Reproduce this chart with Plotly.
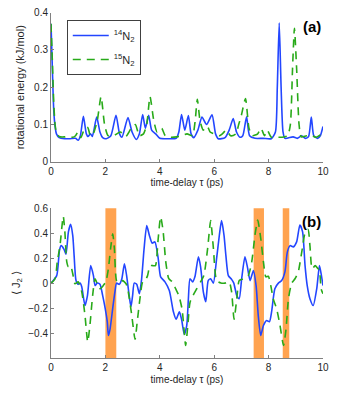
import plotly.graph_objects as go
from plotly.subplots import make_subplots

# ---- panel (a): rotational energy (kJ/mol) vs time delay (ps)
t_e14 = [0.0, 0.05, 0.1, 0.15, 0.2, 0.3, 0.5, 0.7, 0.9, 1.0, 1.08, 1.19, 1.3, 1.36, 1.45, 1.52,
         1.68, 1.8, 1.9, 2.03, 2.2, 2.39, 2.52, 2.61, 2.83, 2.98, 3.14, 3.25, 3.37, 3.47, 3.59,
         3.7, 3.85, 4.0, 4.3, 4.6, 4.7, 4.8, 4.92, 5.05, 5.15, 5.25, 5.4, 5.55, 5.72, 5.92, 6.05,
         6.15, 6.4, 6.55, 6.7, 6.82, 6.95, 7.05, 7.19, 7.3, 7.5, 7.8, 8.1, 8.25, 8.32, 8.39, 8.46,
         8.53, 8.6, 8.9, 9.05, 9.22, 9.35, 9.47, 9.57, 9.66, 9.8, 9.9, 10.0]
e14 = [0.37, 0.25, 0.14, 0.095, 0.075, 0.065, 0.062, 0.062, 0.063, 0.058, 0.07, 0.122, 0.075, 0.068,
       0.075, 0.068, 0.12, 0.08, 0.065, 0.062, 0.07, 0.125, 0.075, 0.066, 0.119, 0.08, 0.06, 0.075,
       0.127, 0.09, 0.125, 0.085, 0.075, 0.063, 0.062, 0.063, 0.08, 0.127, 0.085, 0.124, 0.075, 0.065,
       0.085, 0.12, 0.1, 0.126, 0.075, 0.062, 0.065, 0.085, 0.116, 0.08, 0.066, 0.07, 0.121, 0.07,
       0.063, 0.063, 0.062, 0.08, 0.2, 0.373, 0.2, 0.08, 0.063, 0.067, 0.063, 0.07, 0.063, 0.068,
       0.12, 0.07, 0.063, 0.07, 0.095]

t_e15 = [0.0, 0.05, 0.1, 0.15, 0.2, 0.3, 0.5, 0.6, 0.8, 0.9, 0.99, 1.1, 1.24, 1.35, 1.45, 1.55, 1.7,
         1.84, 1.97, 2.1, 2.3, 2.55, 2.75, 2.95, 3.1, 3.25, 3.4, 3.52, 3.64, 3.78, 3.9, 4.07, 4.2,
         4.4, 4.62, 4.8, 5.0, 5.2, 5.3, 5.38, 5.48, 5.6, 5.75, 5.85, 6.0, 6.2, 6.3, 6.45, 6.6, 6.8,
         6.9, 7.0, 7.15, 7.28, 7.4, 7.6, 7.72, 7.85, 7.95, 8.1, 8.3, 8.5, 8.7, 8.8, 8.88, 8.95, 9.03,
         9.12, 9.2, 9.4, 9.6, 9.75, 9.9, 10.0]
e15 = [0.37, 0.27, 0.16, 0.1, 0.078, 0.068, 0.067, 0.069, 0.066, 0.07, 0.08, 0.065, 0.09, 0.092, 0.07,
       0.075, 0.11, 0.175, 0.1, 0.07, 0.07, 0.08, 0.068, 0.09, 0.1, 0.07, 0.075, 0.1, 0.175, 0.11,
       0.08, 0.09, 0.07, 0.066, 0.067, 0.07, 0.075, 0.07, 0.11, 0.168, 0.11, 0.085, 0.095, 0.08,
       0.075, 0.07, 0.075, 0.085, 0.07, 0.075, 0.1, 0.125, 0.17, 0.09, 0.07, 0.075, 0.09, 0.07,
       0.085, 0.066, 0.066, 0.066, 0.07, 0.1, 0.25, 0.358, 0.25, 0.1, 0.067, 0.07, 0.07, 0.066,
       0.072, 0.08]

# ---- panel (b): <J2> vs time delay (ps)
t_j14 = [0.0, 0.21, 0.31, 0.37, 0.48, 0.55, 0.64, 0.72, 0.8, 0.85, 0.92, 1.0, 1.07, 1.13, 1.25, 1.34,
         1.46, 1.56, 1.62, 1.7, 1.8, 1.9, 1.99, 2.07, 2.11, 2.17, 2.27, 2.35, 2.41, 2.51, 2.6, 2.7,
         2.78, 2.88, 2.94, 3.0, 3.06, 3.15, 3.25, 3.33, 3.42, 3.52, 3.62, 3.72, 3.82, 3.94, 4.03,
         4.19, 4.35, 4.5, 4.6, 4.72, 4.8, 4.9, 4.99, 5.05, 5.11, 5.21, 5.29, 5.42, 5.5, 5.6, 5.69,
         5.78, 5.87, 5.97, 6.09, 6.19, 6.27, 6.36, 6.43, 6.52, 6.64, 6.72, 6.83, 6.92, 7.01, 7.13,
         7.22, 7.32, 7.44, 7.54, 7.62, 7.71, 7.81, 7.93, 8.03, 8.11, 8.23, 8.36, 8.48, 8.6, 8.69,
         8.79, 8.91, 9.03, 9.15, 9.25, 9.34, 9.42, 9.52, 9.64, 9.77, 9.87, 9.95, 10.0]
j14 = [0.0, 0.06, 0.26, 0.3, 0.27, 0.23, 0.41, 0.47, 0.38, 0.22, 0.02, -0.01, 0.0, -0.03, -0.18, -0.1,
       0.14, 0.06, -0.02, 0.0, -0.01, -0.1, -0.2, -0.31, -0.42, -0.37, -0.2, -0.07, 0.0, -0.01, 0.03,
       0.155, 0.06, -0.11, -0.19, -0.1, 0.0, -0.01, -0.085, 0.03, 0.27, 0.46, 0.38, 0.32, 0.33, 0.2,
       0.05, 0.01, -0.06, -0.23, -0.29, -0.23, -0.29, -0.41, -0.34, -0.13, 0.035, 0.01, 0.05, 0.21,
       0.13, -0.07, -0.15, 0.02, 0.035, 0.0, 0.2, 0.385, 0.5, 0.385, 0.22, 0.06, 0.03, 0.0, -0.1,
       -0.125, 0.035, 0.21, 0.13, 0.02, 0.1, -0.02, -0.26, -0.42, -0.34, -0.3, -0.31, -0.23, -0.045,
       0.0, 0.02, 0.09, 0.25, 0.3, 0.29, 0.33, 0.465, 0.41, 0.14, -0.02, -0.125, -0.18, -0.045, 0.14,
       0.05, -0.02]

t_j15 = [0.0, 0.15, 0.23, 0.33, 0.45, 0.51, 0.58, 0.64, 0.72, 0.8, 0.88, 1.0, 1.13, 1.25, 1.35, 1.43,
         1.53, 1.62, 1.7, 1.8, 1.92, 2.02, 2.11, 2.19, 2.27, 2.33, 2.41, 2.51, 2.63, 2.76, 2.84, 2.97,
         3.09, 3.17, 3.27, 3.37, 3.46, 3.55, 3.64, 3.74, 3.84, 3.93, 4.03, 4.12, 4.22, 4.33, 4.46,
         4.58, 4.7, 4.82, 4.9, 4.95, 5.03, 5.11, 5.22, 5.36, 5.5, 5.62, 5.76, 5.87, 5.97, 6.09, 6.25,
         6.4, 6.55, 6.64, 6.73, 6.83, 6.92, 7.07, 7.25, 7.38, 7.5, 7.6, 7.71, 7.81, 7.9, 7.99, 8.08,
         8.17, 8.3, 8.42, 8.55, 8.64, 8.73, 8.85, 8.97, 9.09, 9.22, 9.35, 9.45, 9.52, 9.6, 9.71, 9.8,
         9.87, 9.93, 10.0]
j15 = [0.0, 0.035, 0.17, 0.3, 0.535, 0.41, 0.17, 0.13, 0.14, 0.075, -0.005, 0.01, -0.07, -0.26, -0.47,
       -0.34, -0.1, 0.035, -0.005, -0.045, -0.02, 0.013, 0.115, 0.275, 0.395, 0.275, 0.02, 0.0, 0.02,
       -0.005, -0.07, -0.26, -0.45, -0.31, -0.125, 0.01, 0.02, 0.06, 0.14, 0.14, 0.14, 0.33, 0.53,
       0.42, 0.17, 0.035, 0.01, -0.045, -0.1, -0.21, -0.395, -0.5, -0.34, -0.155, -0.1, -0.045, 0.01,
       0.06, 0.28, 0.5, 0.28, 0.02, 0.0, 0.0, 0.01, -0.07, -0.29, -0.125, 0.02, 0.035, 0.06, 0.17,
       0.385, 0.505, 0.36, 0.17, 0.05, 0.055, -0.02, -0.125, -0.21, -0.34, -0.5, -0.37, -0.125, 0.0,
       0.035, 0.09, 0.25, 0.41, 0.43, 0.3, 0.115, 0.14, 0.12, 0.1, -0.045, -0.085]

# highlighted time windows in panel (b), ps
bands = [(2.0, 2.4), (7.45, 7.83), (8.52, 8.76)]

x_ticks = [0, 2, 4, 6, 8, 10]
e_ticks = [0, 0.1, 0.2, 0.3, 0.4]
j_ticks = [-0.4, -0.2, 0, 0.2, 0.4, 0.6]

blue = "rgb(35,70,255)"
green = "rgb(40,170,25)"
orange = "rgb(255,163,80)"
axis_grey = "#808080"
txt = "#262626"
font = "Liberation Sans, Arial, sans-serif"

fig = make_subplots(rows=2, cols=1, vertical_spacing=0.13)

fig.add_trace(go.Scatter(x=t_e14, y=e14, mode="lines", name="<sup>14</sup>N<sub>2</sub>", legendgroup="a",
                         line=dict(color=blue, width=1.6, shape="spline", smoothing=0.6)), row=1, col=1)
fig.add_trace(go.Scatter(x=t_e15, y=e15, mode="lines", name="<sup>15</sup>N<sub>2</sub>", legendgroup="b",
                         line=dict(color=green, width=1.6, dash="8px,6px", shape="spline", smoothing=0.6)),
              row=1, col=1)
fig.add_trace(go.Scatter(x=t_j14, y=j14, mode="lines", showlegend=False,
                         line=dict(color=blue, width=1.6, shape="spline", smoothing=0.6)), row=2, col=1)
fig.add_trace(go.Scatter(x=t_j15, y=j15, mode="lines", showlegend=False,
                         line=dict(color=green, width=1.6, dash="8px,6px", shape="spline", smoothing=0.6)),
              row=2, col=1)

for x0, x1 in bands:
    fig.add_shape(type="rect", xref="x2", yref="y2 domain", x0=x0, x1=x1, y0=0, y1=1,
                  fillcolor=orange, line_width=0, layer="below")

axis_style = dict(showline=True, linecolor=axis_grey, linewidth=1, ticks="inside", ticklen=3,
                  tickcolor=axis_grey, showgrid=False, zeroline=False, mirror=False, automargin=False,
                  ticklabeloverflow="allow", tickfont=dict(size=10, color=txt, family=font))
title_font = dict(size=10, color=txt, family=font)

fig.update_xaxes(range=[0, 10], tickvals=x_ticks, **axis_style)
fig.update_xaxes(title=dict(text="time-delay τ (ps)", font=title_font, standoff=3), row=1, col=1)
fig.update_xaxes(title=dict(text="time-delay τ (ps)", font=title_font, standoff=3), row=2, col=1)
fig.update_yaxes(range=[0, 0.4], tickvals=e_ticks, ticktext=["0", "0.1", "0.2", "0.3", "0.4"],
                 title=dict(text="rotational energy (kJ/mol)", font=dict(size=11, color=txt, family=font),
                            standoff=7),
                 row=1, col=1, **axis_style)
fig.update_yaxes(range=[-0.6, 0.6], tickvals=j_ticks, ticktext=["−0.4", "−0.2", "0", "0.2", "0.4", "0.6"],
                 title=dict(text="⟨ J<sub>2</sub> ⟩", font=dict(size=11, color=txt, family=font), standoff=5),
                 row=2, col=1, **axis_style)

# the page body keeps its default 8px margin, so the figure is 16px smaller than the window
fig.update_layout(
    width=323, height=379,
    margin=dict(l=43, r=8, t=4, b=29),
    paper_bgcolor="white", plot_bgcolor="white",
    font=dict(family=font, color=txt),
    yaxis=dict(domain=[0.567, 0.998]),
    yaxis2=dict(domain=[0.0, 0.433]),
    legend=dict(x=0.058, y=0.977, xanchor="left", yanchor="top", bgcolor="white",
                bordercolor="#404040", borderwidth=1, font=dict(size=11, color=txt, family=font),
                itemwidth=36, tracegroupgap=5),
    annotations=[
        dict(text="<b>(a)</b>", xref="x domain", yref="y domain", x=1.0, y=0.98, xanchor="right",
             yanchor="top", showarrow=False, font=dict(size=15, color="black", family=font)),
        dict(text="<b>(b)</b>", xref="x2 domain", yref="y2 domain", x=1.0, y=0.98, xanchor="right",
             yanchor="top", showarrow=False, font=dict(size=15, color="black", family=font)),
    ],
)

fig.write_html("out.html")
